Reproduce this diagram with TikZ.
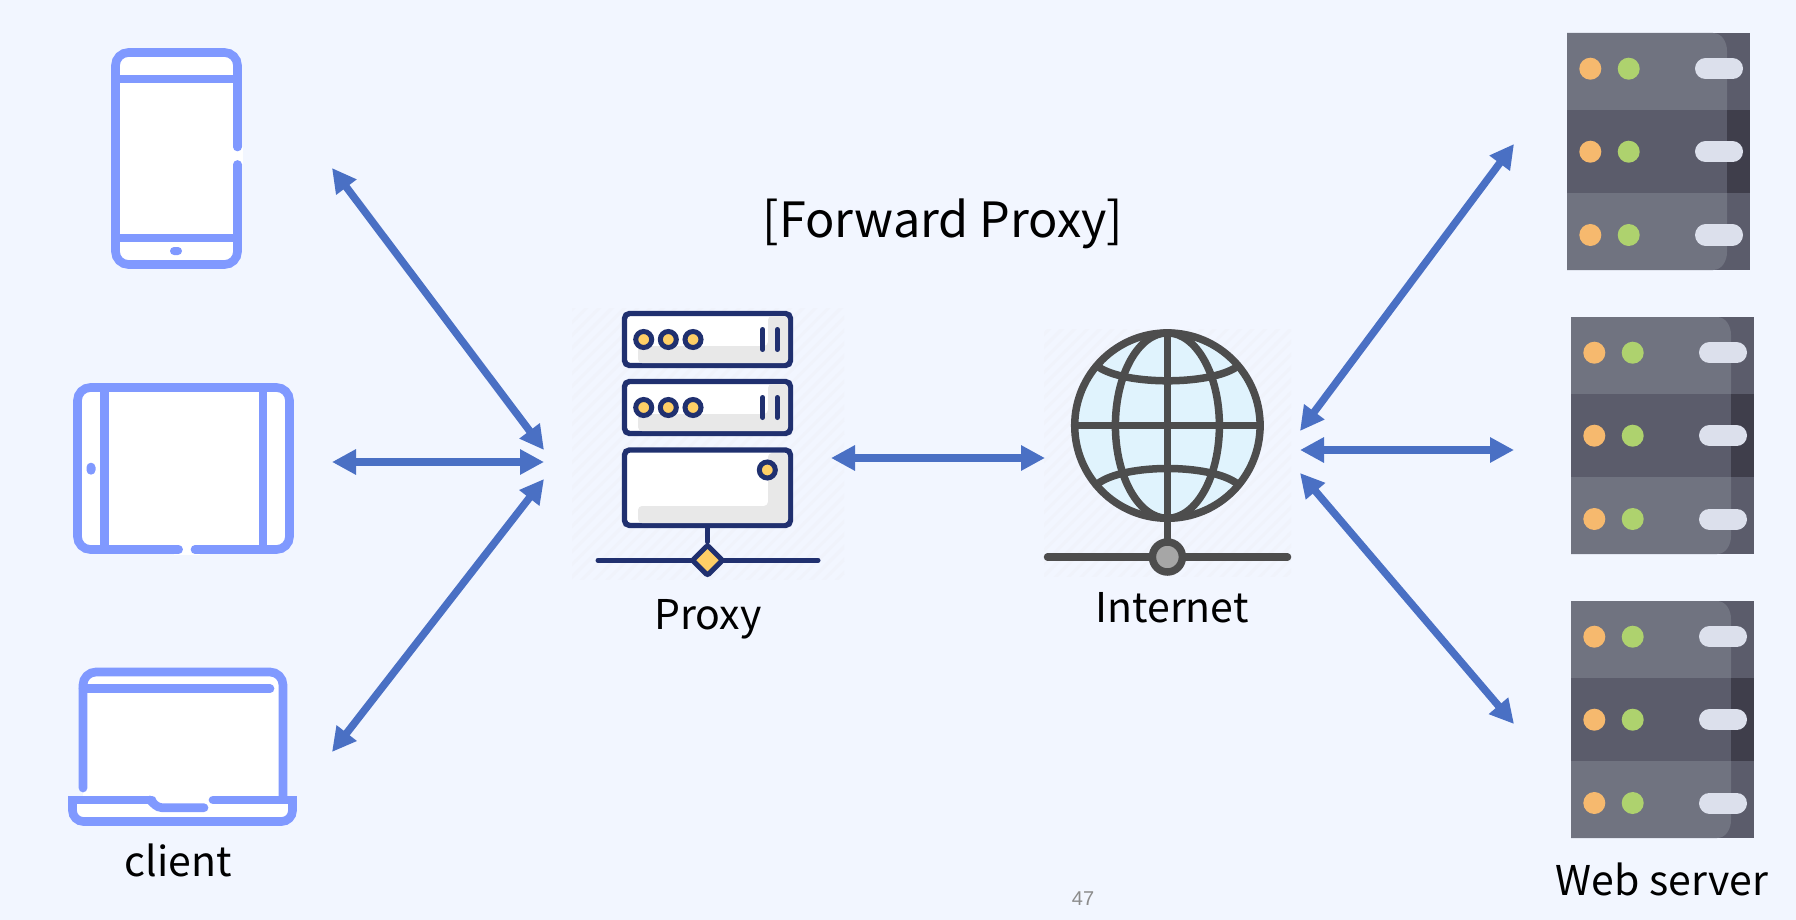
\documentclass[tikz,border=0pt]{standalone}
\usepackage{fontspec}
\setmainfont{Noto Sans CJK KR}
\newfontfamily\pagefont{Liberation Sans}
\usetikzlibrary{arrows.meta,shapes.geometric,patterns.meta}
\definecolor{pagebg}{HTML}{F2F6FF}
\definecolor{devblue}{HTML}{8099FF}
\definecolor{arrblue}{HTML}{4A70C4}
\definecolor{navy}{HTML}{20306F}
\definecolor{amber}{HTML}{FFCF66}
\definecolor{pxgrey}{HTML}{E8E8E8}
\definecolor{hatchcol}{HTML}{F0F3FB}
\definecolor{globeline}{HTML}{4D4D4D}
\definecolor{globefill}{HTML}{E0F3FD}
\definecolor{rackA}{HTML}{707380}
\definecolor{rackB}{HTML}{5B5C6B}
\definecolor{rackC}{HTML}{3F3E4B}
\definecolor{ledA}{HTML}{F6B96E}
\definecolor{ledB}{HTML}{AED26E}
\definecolor{rackpill}{HTML}{DCE0EC}

\begin{document}
\begin{tikzpicture}[x=1pt,y=-1pt,
frame/.style={draw=devblue,fill=white,line width=8.7pt,rounded corners=13pt,inner sep=0pt},
devline/.style={draw=devblue,line width=8.7pt},
pxbox/.style={draw=navy,fill=white,line width=5.4pt,rounded corners=5pt,inner sep=0pt,minimum width=166pt},
pxline/.style={draw=navy,line width=5pt,line cap=round},
lamp/.style={draw=navy,fill=amber,line width=5pt},
hatchbox/.style={inner sep=0pt,pattern={Lines[angle=45,distance=9pt,line width=3pt]},pattern color=hatchcol},
globeln/.style={draw=globeline,line width=7.5pt},
lbl/.style={anchor=base,font=\fontsize{41}{48}\selectfont},
arr/.style={{Triangle[length=24pt,width=24pt]}-{Triangle[length=24pt,width=24pt]},draw=arrblue,line width=7.5pt}]
\fill[pagebg] (0,0) rectangle (1796,920);
\useasboundingbox (0,0) rectangle (1796,920);

% phone
\node[frame,minimum width=122pt,minimum height=212pt] (phone) at (176.5,158.5) {};
\draw[devline] (115.5,79)--(237.5,79) (115.5,238)--(237.5,238);
\fill[white] (233,147) rectangle (242.5,164);
\draw[devline,line cap=round] (237.5,140)--(237.5,147) (237.5,164.5)--(237.5,172);
\fill[devblue,rounded corners=4pt] (170,247) rectangle (182,255);

% tablet
\node[frame,minimum width=212pt,minimum height=162pt] (tablet) at (183.5,468.5) {};
\draw[devline] (104.7,387.5)--(104.7,549.5) (263,387.5)--(263,549.5);
\fill[white] (174,545) rectangle (200,554.5);
\draw[devline,line cap=round] (170,549.5)--(178.6,549.5) (195,549.5)--(203,549.5);
\fill[devblue,rounded corners=4.5pt] (86.5,462.7) rectangle (95.5,474.7);

% laptop
\node[fill=white,inner sep=0pt,minimum width=200pt,minimum height=128pt] (laptop) at (183,736) {};
\fill[white] (72.5,800) rectangle (292.5,821.5);
\draw[devline,line cap=round,rounded corners=13pt] (83,788)--(83,672)--(283,672)--(283,797);
\draw[devline,line cap=round] (83,688.7)--(270,688.7);
\draw[devline,line cap=round,rounded corners=4pt] (204,807.7)--(158,807.7)--(150,800);
\draw[devline,line cap=round] (152,800)--(72.5,800);
\draw[devline,rounded corners=11pt] (72.5,796)--(72.5,821.5)--(292.5,821.5)--(292.5,796);
\draw[devline,line cap=round] (292.5,800)--(213,800);
\node[lbl] (client) at (178,876) {client};

% proxy
\node[hatchbox,minimum width=272pt,minimum height=271pt] (proxy) at (708,443.5) {};
\foreach \n/\y in {rowA/339.5,rowB/407.5}{
  \node[pxbox,minimum height=52pt] (\n) at (707.5,\y) {};
  \fill[pxgrey,rounded corners=4pt] (638,\y+23.5)--(638,\y+6.5)--(768,\y+6.5)--(768,\y-23.5)--(788,\y-23.5)--(788,\y+23.5)--cycle;
  \foreach \x in {643.7,668.3,693}{\draw[lamp] (\x,\y) circle (8pt);}
  \draw[pxline] (762.7,\y-10)--(762.7,\y+10) (777.3,\y-10)--(777.3,\y+10);
}
\node[pxbox,minimum height=75.5pt] (rowC) at (707.5,487.7) {};
\fill[pxgrey,rounded corners=4pt] (638,523)--(638,506)--(768,506)--(768,453)--(788,453)--(788,523)--cycle;
\draw[lamp] (767.3,470) circle (8pt);
\draw[pxline] (598,560.3)--(818,560.3);
\node[diamond,draw=navy,fill=amber,line width=5pt,rounded corners=2pt,inner sep=0pt,minimum width=32pt,minimum height=32pt] (pxport) at (707.5,560.3) {};
\draw[pxline] (rowC.south)--(pxport.north);
\node[lbl] (proxylbl) at (708,629) {Proxy};

% internet
\node[hatchbox,minimum width=247pt,minimum height=247pt] (internet) at (1167.5,452.5) {};
\node[globeln,circle,fill=globefill,inner sep=0pt,minimum size=185.4pt] (globe) at (1167.4,425.6) {};
\draw[globeln] (globe.center) ellipse (52pt and 92.7pt);
\draw[globeln] (globe.north)--(globe.south) (globe.west)--(globe.east);
\draw[globeln] (1098,366.7) .. controls (1125,385.5) and (1210,385.5) .. (1237,366.7);
\draw[globeln] (1098,483.5) .. controls (1125,463.5) and (1210,463.5) .. (1237,483.5);
\draw[globeln] (globe.south)--(1167.4,540);
\draw[globeln,line cap=round] (1047.5,557)--(1287.5,557);
\node[circle,draw=globeline,fill=black!35,line width=7.5pt,inner sep=0pt,minimum size=30pt] (netport) at (1167.4,557) {};
\node[lbl] (netlbl) at (1172,622) {Internet};

% web servers
\foreach \n/\sx/\sy in {srvA/1567/33,srvB/1571/317,srvC/1571/601}{
\begin{scope}[shift={(\sx,\sy)}]
  \node[fill=rackB,inner sep=0pt,minimum width=183pt,minimum height=237pt] (\n) at (91.5,118.5) {};
  \fill[rackA] (0,0)--(146,0) to[out=0,in=90] (160,18)--(160,219) to[out=-90,in=0] (146,237)--(0,237)--cycle;
  \fill[rackB] (0,77) rectangle (160,159.7);
  \fill[rackC] (160,77) rectangle (183,159.7);
  \foreach \y in {35.7,118.7,202}{
    \fill[ledA] (23.3,\y) circle (11pt);
    \fill[ledB] (61.7,\y) circle (11pt);
    \draw[draw=rackpill,line cap=round,line width=21pt] (138.5,\y)--(165.5,\y);
  }
\end{scope}
}
\node[lbl] (webserver) at (1662,895) {Web server};

% arrows
\coordinate (phoneEnd) at (332,168);
\coordinate (phoneIn) at (544,450);
\coordinate (tabletEnd) at (332,462);
\coordinate (tabletIn) at (544,462);
\coordinate (laptopEnd) at (332,752);
\coordinate (laptopIn) at (544,479);
\coordinate (proxyOut) at (831,458);
\coordinate (netIn) at (1045,458);
\coordinate (netA) at (1300,431);
\coordinate (netB) at (1300,450);
\coordinate (netC) at (1300,473);
\coordinate (srvAEnd) at (1514,144);
\coordinate (srvBEnd) at (1514,450);
\coordinate (srvCEnd) at (1514,724);
\draw[arr] (phoneEnd)--(phoneIn);
\draw[arr] (tabletEnd)--(tabletIn);
\draw[arr] (laptopEnd)--(laptopIn);
\draw[arr] (proxyOut)--(netIn);
\draw[arr] (netA)--(srvAEnd);
\draw[arr] (netB)--(srvBEnd);
\draw[arr] (netC)--(srvCEnd);

\node[anchor=base,font=\fontsize{48.6}{58}\selectfont] (title) at (943,237) {[Forward Proxy]};
\node[anchor=base,text=black!45,font=\pagefont\fontsize{20}{24}\selectfont] (pagenum) at (1083,905) {47};
\end{tikzpicture}
\end{document}
